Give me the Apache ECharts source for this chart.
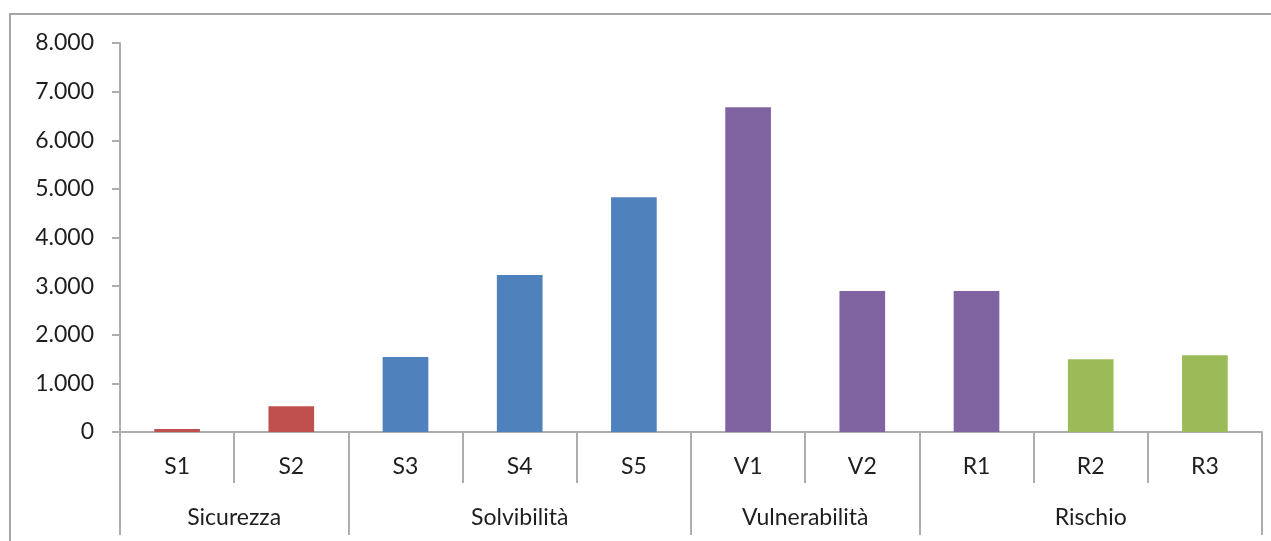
<!DOCTYPE html>
<html>
<head>
<meta charset="utf-8">
<script src="https://cdn.jsdelivr.net/npm/echarts@6/dist/echarts.min.js"></script>
<style>
  html, body { margin: 0; padding: 0; background: #fff; }
  #wrap { position: relative; width: 1271px; height: 541px; overflow: hidden; }
  #main { width: 1271px; height: 541px; }
  /* cornice esterna del grafico (solo lati alto e sinistro visibili) */
  #frame { position: absolute; left: 9px; top: 13px; right: -10px; bottom: -10px;
           border-left: 2px solid #a6a6a6; border-top: 2px solid #a6a6a6; pointer-events: none; }
</style>
</head>
<body>
<div id="wrap">
  <div id="main"></div>
  <div id="frame"></div>
</div>
<script>
// categorie e valori
var categories = ['S1', 'S2', 'S3', 'S4', 'S5', 'V1', 'V2', 'R1', 'R2', 'R3']
var values = [60, 530, 1540, 3230, 4830, 6680, 2900, 2900, 1495, 1580]
// gruppi: nome e numero di categorie
var groupNames = ['Sicurezza', 'Solvibilità', 'Vulnerabilità', 'Rischio']
var groupSizes = [2, 3, 2, 3]
var yTicks = [0, 1000, 2000, 3000, 4000, 5000, 6000, 7000, 8000]

// colori delle barre (R1 è viola come nel grafico originale)
var red = '#c0504d', blue = '#4f81bd', purple = '#8064a2', green = '#9bbb59'
var barColors = [red, red, blue, blue, blue, purple, purple, purple, green, green]

var textColor = '#1e1e1e'
var lineColor = '#adadad'
var font = 'Lato, "Open Sans", sans-serif'

// asse dei gruppi a mezze unità: 2 punti per categoria
var halfData = []
var groupTicks = [0]
var groupLabelAt = {}
var pos = 0
groupSizes.forEach(function (n, i) {
  groupLabelAt[pos + n] = groupNames[i] // centro del gruppo in mezze unità
  pos += 2 * n
  groupTicks.push(pos)
})
for (var k = 0; k <= 2 * categories.length; k++) {
  halfData.push(groupLabelAt[k] || '')
}

function fmtIt(v) {
  if (v < 1000) return String(v)
  return Math.floor(v / 1000) + '.' + String(v % 1000).padStart(3, '0')
}

var myChart = echarts.init(document.getElementById('main'), null, { renderer: 'canvas' })
myChart.setOption({
  animation: false,
  grid: { left: 120, right: 9, top: 43, bottom: 109, containLabel: false },
  xAxis: [
    {
      type: 'category',
      position: 'bottom',
      data: categories,
      axisLine: { show: true, lineStyle: { color: lineColor, width: 2 } },
      axisTick: { show: true, length: 51, lineStyle: { color: lineColor, width: 2 } },
      axisLabel: { interval: 0, margin: 23, color: textColor, fontSize: 23, fontFamily: font },
      splitLine: { show: false }
    },
    {
      type: 'category',
      position: 'bottom',
      offset: 0,
      boundaryGap: false,
      data: halfData,
      axisLine: { show: false },
      axisTick: {
        show: true,
        length: 103,
        interval: function (idx) { return groupTicks.indexOf(idx) >= 0 },
        lineStyle: { color: lineColor, width: 2 }
      },
      axisLabel: {
        interval: function (idx, val) { return val !== '' },
        margin: 74,
        color: textColor, fontSize: 23, fontFamily: font
      },
      splitLine: { show: false }
    }
  ],
  yAxis: {
    type: 'value',
    min: yTicks[0],
    max: yTicks[yTicks.length - 1],
    interval: 1000,
    axisLine: { show: true, lineStyle: { color: lineColor, width: 2 } },
    axisTick: { show: true, length: 8, lineStyle: { color: lineColor, width: 2 } },
    axisLabel: { margin: 26, color: textColor, fontSize: 23, fontFamily: font, formatter: fmtIt },
    splitLine: { show: false }
  },
  series: [
    {
      type: 'bar',
      xAxisIndex: 0,
      barWidth: '40%',
      data: values.map(function (v, i) {
        return { value: v, itemStyle: { color: barColors[i] } }
      })
    }
  ]
})
</script>
</body>
</html>
